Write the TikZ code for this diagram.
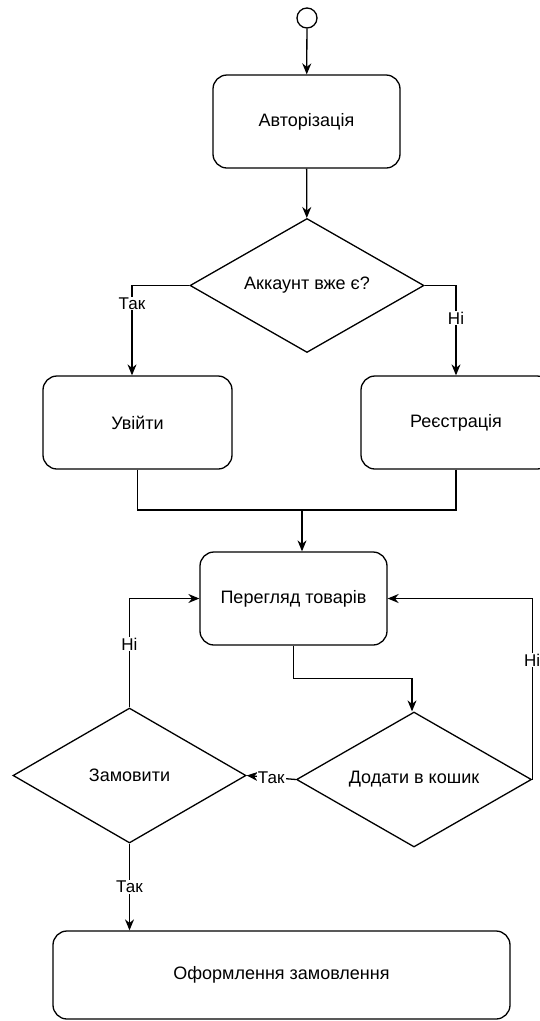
\documentclass[tikz,border=0pt]{standalone}
\usepackage{fontspec}
\setmainfont{Liberation Sans}
\usetikzlibrary{arrows.meta,positioning,shapes.geometric}

\begin{document}
\begin{tikzpicture}[
  x=1pt, y=-1pt,
  font=\fontsize{18}{21}\selectfont,
  line width=1.3pt,
  act/.style={draw, rounded corners=14pt, minimum width=187pt, minimum height=93pt, align=center},
  dec/.style={draw, diamond, aspect=1.75, minimum width=234pt, minimum height=134pt, inner sep=0pt},
  arr/.style={-{Stealth[length=11pt,width=9pt]}},
  lbl/.style={fill=white, inner sep=1pt, font=\fontsize{17}{20}\selectfont}
]
\useasboundingbox (0,0) rectangle (540,1021);

% Login part
\node[draw, circle, minimum size=20pt, inner sep=0pt] (start) at (307,18) {};
\node[act] (auth) at (306.5,121.5) {Авторізація};
\node[dec] (acc) at (307,285.5) {Аккаунт вже є?};
\node[act, minimum width=189pt] (login) at (137.5,422.5) {Увійти};
\node[act, minimum width=190pt] (reg) at (456,422.5) {Реєстрація};
\draw[arr] (start) -- (auth);
\draw[arr] (auth) -- (acc);
\draw[arr] (acc.west) -| node[lbl, pos=0.6] {Так} ([xshift=-5.5pt]login.north);
\draw[arr] (acc.east) -| node[lbl, pos=0.68] {Ні} (reg.north);

% Shop part
\node[act] (browse) at (293.5,598.5) {Перегляд товарів};
\node[dec, minimum width=235pt, minimum height=135pt] (cart) at (414,779.5) {Додати в кошик};
\node[dec, minimum width=233pt, minimum height=135pt] (order) at (129.5,775.5) {Замовити};
\node[act, minimum width=457pt, minimum height=88pt] (checkout) at (281.5,975) {Оформлення замовлення};
\coordinate (join) at (302,510);
\draw (login.south) |- (join);
\draw (reg.south) |- (join);
\draw[arr] (join) -- (join |- browse.north);
\draw[arr] (browse.south) -- ++(0,33) -| ([xshift=-2pt]cart.north);
\draw[arr] (cart.east) |- node[lbl, pos=0.33] {Ні} (browse.east);
\draw[arr] (cart.west) -- node[lbl] {Так} (order.east);
\draw[arr] (order.north) |- node[lbl, pos=0.29] {Ні} (browse.west);
\draw[arr] (order.south) -- node[lbl] {Так} (order.south |- checkout.north);
\end{tikzpicture}
\end{document}
